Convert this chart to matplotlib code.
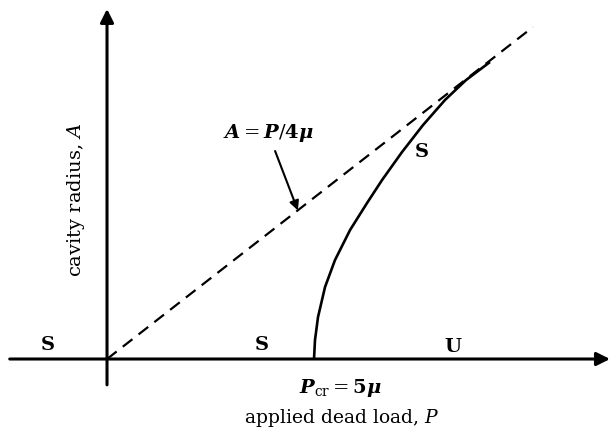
"""Cavity radius vs applied dead load schematic."""

import matplotlib
matplotlib.use("Agg")
import matplotlib.pyplot as plt

plt.rcParams['font.family'] = ['DejaVu Serif']
plt.rcParams['mathtext.fontset'] = 'custom'
plt.rcParams['mathtext.rm'] = 'DejaVu Serif'
plt.rcParams['mathtext.it'] = 'DejaVu Serif:italic'
plt.rcParams['mathtext.bf'] = 'DejaVu Serif:bold'
plt.rcParams['mathtext.sf'] = 'DejaVu Serif:italic:bold'

# dashed line A = P/4mu, end points
line_P = [0.0, 10.29]
line_A = [0.0, 2.57]

# solid branch starting at Pcr = 5mu
curve_P = [5.000, 5.024, 5.097, 5.266, 5.507, 5.870, 6.280, 6.643, 7.126, 7.633, 8.164, 8.671, 9.251]
curve_A = [0.000, 0.147, 0.325, 0.557, 0.766, 0.998, 1.207, 1.385, 1.602, 1.811, 2.005, 2.159, 2.299]

# stability region labels
region_labels = ['S', 'S', 'U', 'S']
region_P = [-1.43, 3.74, 8.36, 7.61]
region_A = [0.11, 0.11, 0.09, 1.60]

fig = plt.figure(figsize=(6.11, 4.32), dpi=100)
ax = fig.add_axes([0, 0, 1, 1])
ax.set_xlim(-2.585, 12.174)
ax.set_ylim(-0.565, 2.779)
ax.axis('off')

# axes with arrows
ax.annotate('', xy=(12.15, 0), xytext=(-2.35, 0),
            arrowprops=dict(arrowstyle='-|>', lw=2.2, color='black', mutation_scale=20,
                            shrinkA=0, shrinkB=0))
ax.annotate('', xy=(0, 2.71), xytext=(0, -0.2),
            arrowprops=dict(arrowstyle='-|>', lw=2.2, color='black', mutation_scale=20,
                            shrinkA=0, shrinkB=0))

ax.plot(line_P, line_A, color='black', lw=1.6, dashes=(5.5, 3.5))
ax.plot(curve_P, curve_A, color='black', lw=1.9, solid_capstyle='butt',
        solid_joinstyle='round')

for lab, p, a in zip(region_labels, region_P, region_A):
    ax.text(p, a, lab, fontsize=14, fontweight='bold', ha='center', va='center')

ax.text(3.89, 1.75, r'$\mathsf{A}=\mathsf{P}/\mathbf{4}\mathsf{\mu}$', fontsize=14,
        ha='center', va='center')
ax.annotate('', xy=(4.61, 1.15), xytext=(4.06, 1.61),
            arrowprops=dict(arrowstyle='-|>', lw=1.5, color='black', mutation_scale=14,
                            shrinkA=0, shrinkB=0))

ax.text(5.63, -0.225, r'$\mathsf{P}_{\mathrm{cr}}=\mathbf{5}\mathsf{\mu}$', fontsize=14,
        ha='center', va='center')
ax.text(5.68, -0.46, r'applied dead load, $P$', fontsize=13.5, ha='center', va='center')
ax.text(-0.75, 1.23, r'cavity radius, $A$', fontsize=14, ha='center', va='center',
        rotation=90)

fig.savefig('out.png', dpi=100)
